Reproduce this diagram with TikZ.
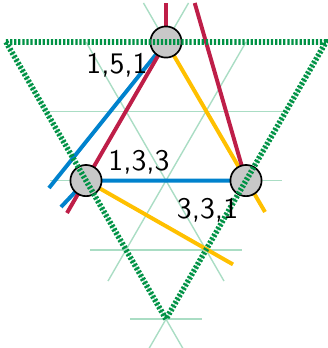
\documentclass[tikz,border=0pt]{standalone}
\usepackage{amsmath,amssymb}
\usepackage{tikz}
\usetikzlibrary{backgrounds}

\definecolor{latticegreen}{RGB}{170,221,196}
\definecolor{fangreen}{RGB}{0,146,69}
\definecolor{crimson}{RGB}{190,30,72}
\definecolor{azure}{RGB}{0,130,205}
\definecolor{amber}{RGB}{255,192,0}
\definecolor{vertexgray}{RGB}{200,200,200}

\begin{document}
\begin{tikzpicture}[thick,
  gridline/.style={draw=latticegreen, line width=0.5pt},
  ray/.style={line width=1.4pt},
  vertex/.style={circle, draw=black, line width=0.6pt, fill=vertexgray, minimum size=0.39cm, inner sep=0pt},
  fan/.style={draw=fangreen, line width=2pt, dash pattern=on 0.8pt off 0.65pt},
  weight/.style={font=\sffamily, scale=1.06, anchor=base, inner sep=0pt}]

  \useasboundingbox (-2.075,-3.825) rectangle (2.025,0.525);

  \def\h{0.866}

  \node[vertex] (topV) at (0,0) {};
  \node[vertex] (leftV) at (-1,-2*\h) {};
  \node[vertex] (rightV) at (1,-2*\h) {};

  \coordinate (cornerL) at (-2,0);
  \coordinate (cornerR) at (2,0);
  \coordinate (apex) at (0,-4*\h);

  % free ends of the rays
  \coordinate (redUp) at (0,0.4875);
  \coordinate (redSteepUp) at (0.359,0.4875);
  \coordinate (redLow) at (-1.2375,-2.1375);
  \coordinate (blueLong) at (-1.4625,-1.825);
  \coordinate (blueShort) at (-1.3125,-2.0625);
  \coordinate (yellowRight) at (1.2375,-2.125);
  \coordinate (yellowLow) at (0.8375,-2.78);

  \begin{pgfonlayer}{background}
    % lattice
    \foreach \j/\w in {1/1.5, 2/1.45, 3/0.95, 4/0.45}
      \draw[gridline] (-\w,-\j*\h) -- (\w,-\j*\h);
    \foreach \m in {1,-1} {
      \begin{scope}[xscale=\m]
        \draw[gridline] (-0.2815,0.4875) -- (1.225,-2.122);
        \draw[gridline] (-1,0) -- (0.725,-2.988);
        \draw[gridline] (-2,0) -- (0.225,-3.854);
      \end{scope}
    }

    \draw[ray, amber] (topV.center) -- (yellowRight);
    \draw[ray, amber] (leftV.center) -- (yellowLow);
    \draw[ray, azure] (topV.center) -- (blueLong);
    \draw[ray, azure] (blueShort) -- (leftV.center) -- (rightV.center);
    \draw[ray, crimson] (redUp) -- (topV.center) -- (redLow);
    \draw[ray, crimson] (redSteepUp) -- (rightV.center);
  \end{pgfonlayer}

  \draw[fan] (cornerL) -- (cornerR) -- (apex) -- cycle;

  \node[weight] (wTop) at (-0.6125,-0.3875) {1,5,1};
  \node[weight] (wLeft) at (-0.3375,-1.6) {1,3,3};
  \node[weight] (wRight) at (0.519,-2.2) {3,3,1};

\end{tikzpicture}
\end{document}
